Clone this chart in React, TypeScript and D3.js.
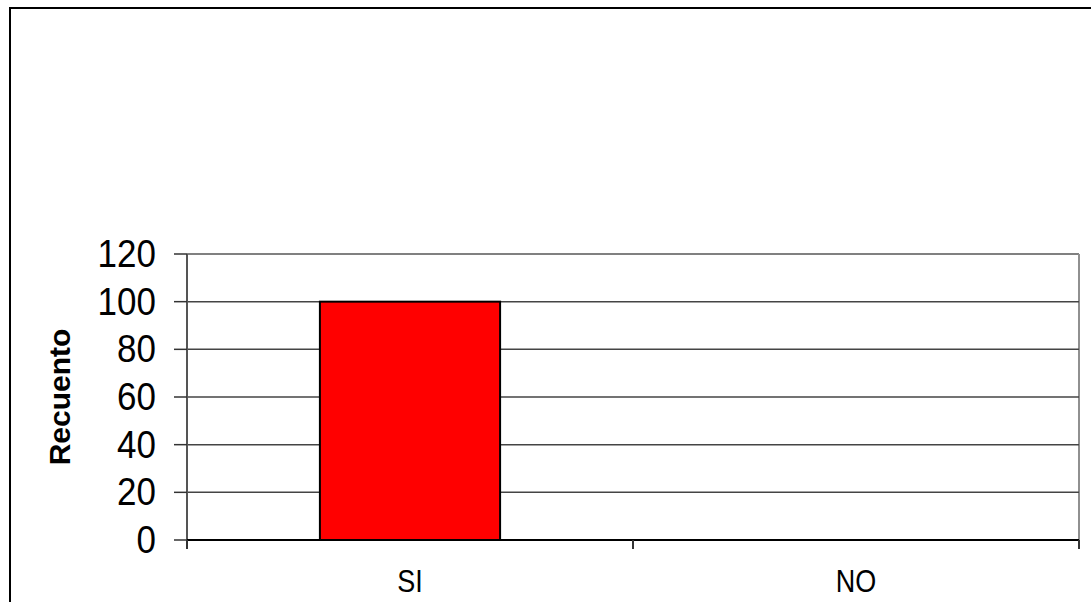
import React from "react";
import * as d3 from "d3";

const categories = ["SI", "NO"];
const values = [100, 0];
const yTicks = [0, 20, 40, 60, 80, 100, 120];
const yTitle = "Recuento";

export default function App() {
  const W = 1091, H = 602;
  const left = 187, right = 1079, top = 254, bottom = 540;
  const y = d3.scaleLinear().domain([0, 120]).range([bottom, top]);
  const x = d3.scaleBand<string>().domain(categories).range([left, right]).padding(0);
  const barW = x.bandwidth() * 0.404;
  const font = "Arial, 'Liberation Sans', sans-serif";
  return (
    <svg width={W} height={H} style={{ position: "absolute", left: 0, top: 0, background: "#fff" }}>
      <rect x={10} y={8} width={1100} height={700} fill="#fff" stroke="#000" strokeWidth={2} />
      {/* plot frame */}
      <line x1={left} x2={right} y1={top} y2={top} stroke="#808080" strokeWidth={2} />
      <line x1={right} x2={right} y1={top} y2={bottom} stroke="#909090" strokeWidth={2} />
      {yTicks.filter(t => t > 0 && t < 120).map(t => (
        <line key={t} x1={left} x2={right} y1={y(t)} y2={y(t)} stroke="#444" strokeWidth={1.5} />
      ))}
      {categories.map((c, i) => (
        <rect key={c} x={x(c)! + (x.bandwidth() - barW) / 2} y={y(values[i])} width={barW}
          height={bottom - y(values[i])} fill="#ff0000" stroke="#000" strokeWidth={values[i] > 0 ? 2 : 0} />
      ))}
      <line x1={left} x2={left} y1={top} y2={549} stroke="#555" strokeWidth={2} />
      <line x1={left} x2={right} y1={bottom} y2={bottom} stroke="#000" strokeWidth={2} />
      {yTicks.map(t => (
        <g key={t}>
          <line x1={174} x2={left} y1={y(t)} y2={y(t)} stroke="#333" strokeWidth={1.5} />
          <text transform={`translate(156,${y(t) - 1}) scale(1,1.1)`} dy="0.36em" textAnchor="end"
            fontFamily={font} fontSize={35} fill="#000">{t}</text>
        </g>
      ))}
      {[left, left + x.step(), right].map((v, i) => (
        <line key={i} x1={v} x2={v} y1={bottom} y2={549} stroke="#333" strokeWidth={2} />
      ))}
      {categories.map(c => (
        <text key={c} transform={`translate(${x(c)! + x.bandwidth() / 2},592) scale(1,1.15)`} textAnchor="middle"
          fontFamily={font} fontSize={27} fill="#000">{c}</text>
      ))}
      <text transform={`translate(70,${(top + bottom) / 2}) rotate(-90)`} textAnchor="middle"
        fontFamily={font} fontWeight="bold" fontSize={30} fill="#000">{yTitle}</text>
    </svg>
  );
}
